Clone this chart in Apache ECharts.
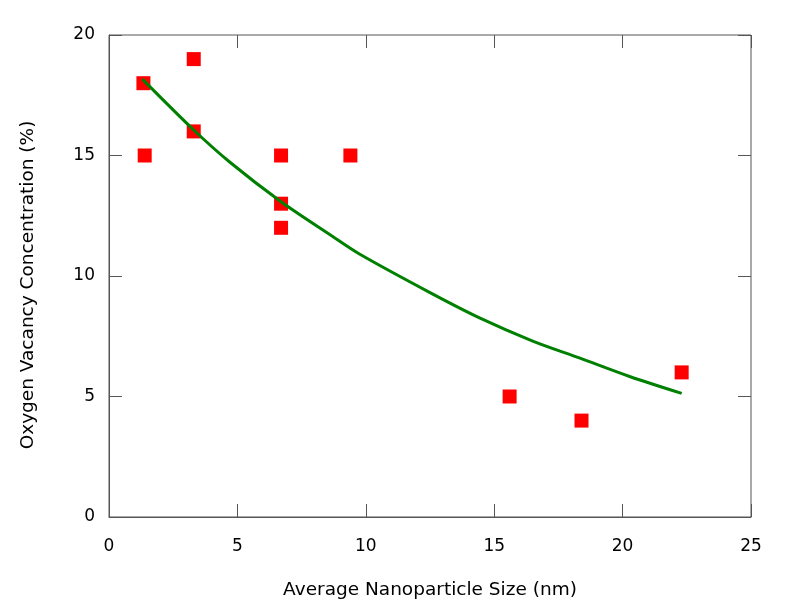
<!DOCTYPE html>
<html>
<head>
<meta charset="utf-8">
<script src="https://cdn.jsdelivr.net/npm/echarts@6/dist/echarts.min.js"></script>
<style>
  html, body { margin: 0; padding: 0; background: #fff; }
  #chart { width: 792px; height: 612px; }
</style>
</head>
<body>
<div id="chart"></div>
<script>
// measured points (size nm, vacancy %)
const sizeX = [1.34, 1.39, 3.3, 3.3, 6.7, 6.7, 6.7, 9.4, 15.6, 18.4, 22.3];
const vacancyY = [18, 15, 19, 16, 15, 13, 12, 15, 5, 4, 6];

// fitted curve
const fitX = [1.3, 3.28, 4.71, 6.7, 8.61, 9.77, 12.5, 14.45, 16.5, 18.34, 20.3, 22.3];
const fitY = [18.17, 16.08, 14.72, 13.08, 11.71, 10.9, 9.31, 8.25, 7.3, 6.59, 5.82, 5.13];

const xTicks = [0, 5, 10, 15, 20, 25];
const yTicks = [0, 5, 10, 15, 20];

const chart = echarts.init(document.getElementById("chart"));

const font = "DejaVu Sans";
const axisGray = "#555";

const tickOnly = {
  axisLine: { show: false, onZero: false },
  axisTick: { show: true, inside: true, length: 13, lineStyle: { color: axisGray, width: 1 } },
  axisLabel: { show: false },
  splitLine: { show: false },
};

chart.setOption({
  animation: false,
  backgroundColor: "#fff",
  grid: {
    left: 109,
    right: 41,
    top: 35,
    bottom: 95,
    show: true,
    borderColor: axisGray,
    borderWidth: 1,
  },
  xAxis: [
    {
      type: "value",
      min: xTicks[0],
      max: xTicks[xTicks.length - 1],
      interval: 5,
      position: "bottom",
      name: "Average Nanoparticle Size (nm)",
      nameLocation: "middle",
      nameGap: 64,
      nameTextStyle: { fontFamily: font, fontSize: 18.5, color: "#000" },
      axisLine: { show: true, onZero: false, lineStyle: { color: axisGray } },
      axisTick: { show: true, inside: true, length: 13, lineStyle: { color: axisGray } },
      axisLabel: { fontFamily: font, fontSize: 17, color: "#000", margin: 21 },
      splitLine: { show: false },
    },
    Object.assign({ type: "value", min: 0, max: 25, interval: 5, position: "top" }, tickOnly),
  ],
  yAxis: [
    {
      type: "value",
      min: yTicks[0],
      max: yTicks[yTicks.length - 1],
      interval: 5,
      position: "left",
      name: "Oxygen Vacancy Concentration (%)",
      nameLocation: "middle",
      nameGap: 71,
      nameTextStyle: { fontFamily: font, fontSize: 18.5, color: "#000", padding: [0, 18, 0, 0] },
      axisLine: { show: true, onZero: false, lineStyle: { color: axisGray } },
      axisTick: { show: true, inside: true, length: 13, lineStyle: { color: axisGray } },
      axisLabel: { fontFamily: font, fontSize: 17, color: "#000", margin: 14 },
      splitLine: { show: false },
    },
    Object.assign({ type: "value", min: 0, max: 20, interval: 5, position: "right" }, tickOnly),
  ],
  series: [
    {
      type: "line",
      data: fitX.map((x, i) => [x, fitY[i]]),
      smooth: 0.3,
      symbol: "none",
      lineStyle: { color: "#008000", width: 3 },
      z: 2,
    },
    {
      type: "scatter",
      data: sizeX.map((x, i) => [x, vacancyY[i]]),
      symbol: "rect",
      symbolSize: 14,
      itemStyle: { color: "#ff0000", opacity: 1 },
      z: 1,
    },
  ],
});
</script>
</body>
</html>
